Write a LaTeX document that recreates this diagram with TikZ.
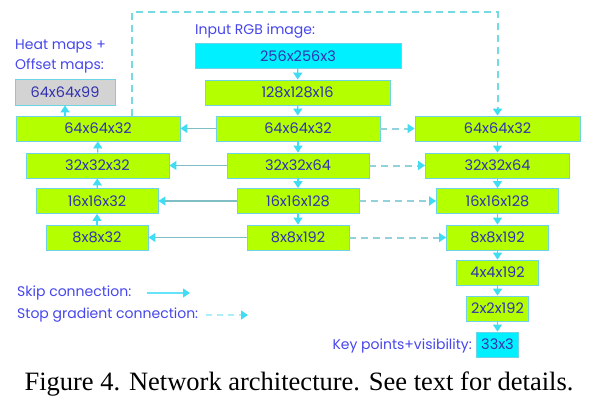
\documentclass[tikz,border=0pt]{standalone}
\usepackage{fontspec}
\setmainfont{Liberation Serif}
\newfontfamily\diagfont{Poppins}
\usetikzlibrary{arrows.meta}

\definecolor{limebox}{HTML}{B4FF00}
\definecolor{cyanbox}{HTML}{00F0FF}
\definecolor{graybox}{HTML}{D3D3D3}
\definecolor{boxline}{HTML}{6CD4E4}
\definecolor{arrcyan}{HTML}{40DCF4}
\definecolor{skipline}{HTML}{80BEC6}
\definecolor{sgline}{HTML}{92D2DC}
\definecolor{labtxt}{HTML}{4646EC}
\definecolor{boxtxt}{HTML}{3232B0}

\begin{document}
\begin{tikzpicture}[x=1pt, y=-1pt,
    blk/.style={rectangle, draw=boxline, line width=0.9pt, fill=limebox, minimum height=25pt, inner sep=0pt, text=boxtxt, font=\diagfont\fontsize{14.5}{16}\selectfont},
    inblk/.style={blk, fill=cyanbox},
    lbl/.style={inner sep=0pt, text=labtxt, font=\diagfont\fontsize{14}{20}\selectfont},
    flow/.style={-{Triangle[length=7pt,width=9pt]}, draw=arrcyan, line width=1.2pt},
    skip/.style={-{Triangle[length=7pt,width=9pt,color=arrcyan]}, draw=skipline, line width=1.5pt},
    stopgrad/.style={-{Triangle[length=7pt,width=9pt,color=arrcyan]}, draw=sgline, line width=2pt, dash pattern=on 7pt off 5pt}
]
\useasboundingbox (0,0) rectangle (589,404);

% Encoder
\node[inblk, minimum width=206pt] (inp) at (298,56) {256x256x3};
\node[blk, minimum width=185pt] (e128) at (297.5,92.5) {128x128x16};
\node[blk, minimum width=164pt] (e64) at (298,128.5) {64x64x32};
\node[blk, minimum width=142pt] (e32) at (298,165.5) {32x32x64};
\node[blk, minimum width=122pt] (e16) at (298,201) {16x16x128};
\node[blk, minimum width=102pt] (e8) at (298,237.5) {8x8x192};

% Heatmap branch
\node[blk, minimum width=164pt] (h64) at (98,128.5) {64x64x32};
\node[blk, minimum width=143pt] (h32) at (97.5,165.5) {32x32x32};
\node[blk, minimum width=122pt] (h16) at (97,201) {16x16x32};
\node[blk, minimum width=102pt] (h8) at (97,237.5) {8x8x32};
\node[blk, fill=graybox, minimum width=100pt, minimum height=26pt] (heat) at (65,92) {64x64x99};

% Regression branch
\node[blk, minimum width=165pt] (r64) at (497.5,128.5) {64x64x32};
\node[blk, minimum width=144pt] (r32) at (497.5,165.5) {32x32x64};
\node[blk, minimum width=122pt] (r16) at (497.5,201) {16x16x128};
\node[blk, minimum width=102pt] (r8) at (497.5,237.5) {8x8x192};
\node[blk, minimum width=82pt] (r4) at (497.5,272.5) {4x4x192};
\node[blk, minimum width=62pt] (r2) at (497.5,308.5) {2x2x192};
\node[inblk, minimum width=42pt] (kp) at (497.5,344.5) {33x3};

% Labels
\node[lbl, anchor=west] (inlbl) at (195,31) {Input RGB image:};
\node[lbl, anchor=west, align=left] (heatlbl) at (15,56) {Heat maps +\\Offset maps:};
\node[lbl, anchor=east] (kplbl) at (472,345.5) {Key points+visibility:};
\node[lbl, anchor=west] (skiplbl) at (17,293) {Skip connection:};
\node[lbl, anchor=west] (sglbl) at (17,315) {Stop gradient connection:};
\node[font=\fontsize{26.5}{28}\selectfont] (cap) at (299,384) {Figure 4. Network architecture. See text for details.};

% Forward arrows
\draw[flow] (inp) -- (e128);
\draw[flow] (e128) -- (e64);
\draw[flow] (e64) -- (e32);
\draw[flow] (e32) -- (e16);
\draw[flow] (e16) -- (e8);
\draw[flow] (h8) -- (h16);
\draw[flow] (h16) -- (h32);
\draw[flow] (h32) -- (h64);
\draw[flow] (h64.north -| heat) -- (heat);
\draw[flow] (r64) -- (r32);
\draw[flow] (r32) -- (r16);
\draw[flow] (r16) -- (r8);
\draw[flow] (r8) -- (r4);
\draw[flow] (r4) -- (r2);
\draw[flow] (r2) -- (kp);

% Skip and stop gradient connections
\draw[skip] (e64) -- (h64);
\draw[skip] (e32) -- (h32);
\draw[skip] (e16) -- (h16);
\draw[skip] (e8) -- (h8);
\draw[stopgrad] (e64) -- (r64);
\draw[stopgrad] (e32) -- (r32);
\draw[stopgrad] (e16) -- (r16);
\draw[stopgrad] (e8) -- (r8);
\coordinate (sgturn) at (132,12);
\draw[stopgrad, draw=sgline!80!cyan] (h64.north -| sgturn) -- (sgturn) -| (r64.north);

% Legend
\coordinate (skipa) at (147,293);
\coordinate (skipb) at (190,293);
\coordinate (sga) at (206,315);
\coordinate (sgb) at (248,315);
\draw[skip, draw=arrcyan!80!white, line width=1.2pt] (skipa) -- (skipb);
\draw[stopgrad, draw=arrcyan!45!white, line width=1.4pt, dash pattern=on 6pt off 5pt] (sga) -- (sgb);

\end{tikzpicture}
\end{document}
